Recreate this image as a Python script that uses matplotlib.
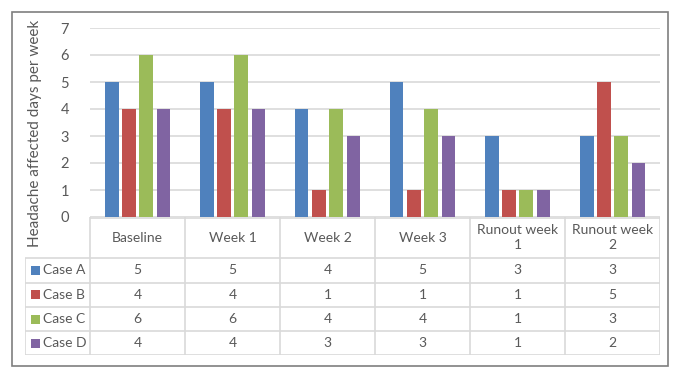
import matplotlib.pyplot as plt
import numpy as np
from matplotlib.patches import Rectangle

# data
periods = ["Baseline", "Week 1", "Week 2", "Week 3", "Runout week\n1", "Runout week\n2"]
cases = ["Case A", "Case B", "Case C", "Case D"]
case_a = [5, 5, 4, 5, 3, 3]
case_b = [4, 4, 1, 1, 1, 5]
case_c = [6, 6, 4, 4, 1, 3]
case_d = [4, 4, 3, 3, 1, 2]
colors = ["#4F81BD", "#C0504D", "#9BBB59", "#8064A2"]

W, H = 687, 379
plt.rcParams['font.family'] = ['Lato', 'DejaVu Sans']
txt = "#595959"
grid = "#D9D9D9"

fig = plt.figure(figsize=(W / 100, H / 100), dpi=100)

def fx(px):  # pixel -> figure fraction
    return px / W

def fy(py):
    return 1 - py / H

# outer frame
fig.patches.append(Rectangle((fx(12), fy(366)), fx(668) - fx(12), fy(12) - fy(366),
                             transform=fig.transFigure, fill=False,
                             edgecolor="#7F7F7F", linewidth=1.2))

# bar area
x0, x1, ytop, ybot = 90, 660, 28, 217
ax = fig.add_axes([fx(x0), fy(ybot), fx(x1) - fx(x0), fy(ytop) - fy(ybot)])
series = [case_a, case_b, case_c, case_d]
x = np.arange(len(periods))
step = 0.181
bw = 0.143
for i, (vals, c) in enumerate(zip(series, colors)):
    ax.bar(x + (i - 1.5) * step, vals, width=bw, color=c, zorder=3)
ax.set_xlim(-0.5, len(periods) - 0.5)
ax.set_ylim(0, 7)
ax.set_yticks(range(0, 8))
ax.yaxis.grid(True, color=grid, linewidth=1.2, zorder=0)
ax.set_xticks([])
for s in ax.spines.values():
    s.set_visible(False)
ax.tick_params(axis='y', length=0, pad=15, labelsize=10.5, labelcolor=txt)

# y label (spans past the plot area, as in the original)
fig.text(fx(35), fy(133), "Headache affected days per week", rotation=90,
         ha='center', va='center', fontsize=11, color=txt)

# data table
tab = fig.add_axes([fx(25), fy(355), fx(660) - fx(25), fy(217) - fy(355)])
tab.set_xlim(25, 660)
tab.set_ylim(355, 217)
tab.axis('off')
col_w = (x1 - x0) / len(periods)
cols = [x0 + k * col_w for k in range(len(periods) + 1)]
rows = [258, 282.5, 307, 331, 355]
lk = dict(color=grid, linewidth=1.2, solid_capstyle='butt')
for cx in cols:
    tab.plot([cx, cx], [217, 355], **lk)
tab.plot([25, 25], [258, 355], **lk)
tab.plot([x0, x1], [217.6, 217.6], **lk)
for ry in rows:
    tab.plot([25, x1], [ry, ry], **lk)

# header
for k, p in enumerate(periods):
    tab.text((cols[k] + cols[k + 1]) / 2, (217 + 258) / 2, p, ha='center', va='center',
             fontsize=10, color=txt, linespacing=1.25)

# rows with legend keys
for r, (name, vals, c) in enumerate(zip(cases, series, colors)):
    cy = (rows[r] + rows[r + 1]) / 2
    tab.add_patch(Rectangle((31, cy - 4.5), 9, 9, color=c, linewidth=0))
    tab.text(43, cy, name, ha='left', va='center', fontsize=10, color=txt)
    for k, v in enumerate(vals):
        tab.text((cols[k] + cols[k + 1]) / 2, cy, str(v), ha='center', va='center',
                 fontsize=10, color=txt)

fig.savefig("out.png", dpi=100)
